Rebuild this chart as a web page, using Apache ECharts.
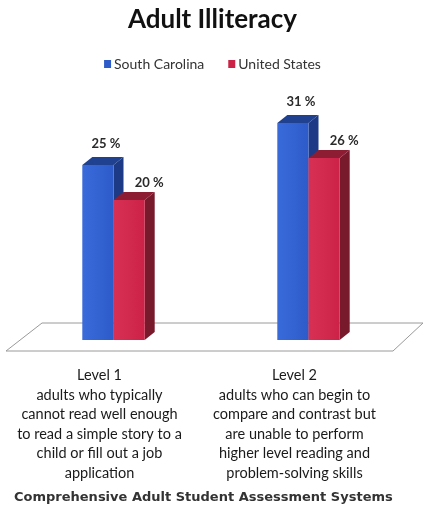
<!DOCTYPE html>
<html>
<head>
<meta charset="utf-8">
<script src="https://cdn.jsdelivr.net/npm/echarts@6/dist/echarts.min.js"></script>
<style>
  html, body { margin: 0; padding: 0; background: #fff; }
  #chart { width: 425px; height: 512px; }
</style>
</head>
<body>
<div id="chart"></div>
<script>
// Adult illiteracy levels, South Carolina vs. United States (percent of adults)
const categories = [
  'Level 1\nadults who typically\ncannot read well enough\nto read a simple story to a\nchild or fill out a job\napplication',
  'Level 2\nadults who can begin to\ncompare and contrast but\nare unable to perform\nhigher level reading and\nproblem-solving skills'
];
const southCarolina = [25, 31];
const unitedStates = [20, 26];
const seriesNames = ['South Carolina', 'United States'];

// Face colours for the pseudo-3D columns: front, top, side
const palettes = [
  { front: '#2d5bc9', frontLight: '#3a6bdb', top: '#20418f', side: '#1c3a86' },
  { front: '#cc2247', frontLight: '#d83055', top: '#8c1d33', side: '#781a2c' }
];

const DEPTH_X = 10, DEPTH_Y = 8, CLUSTER_SHIFT = 14;

function columnRenderer(seriesIdx) {
  const pal = palettes[seriesIdx];
  return function (params, api) {
    const idx = api.value(0);
    const v = api.value(1);
    const base = api.coord([idx, 0]);
    const topPt = api.coord([idx, v]);
    const band = api.size([1, 0])[0];
    const barW = band * 0.16;
    const c = base[0] + CLUSTER_SHIFT;
    const x0 = seriesIdx === 0 ? c - barW : c;
    const x1 = x0 + barW;
    const yb = base[1];
    const yt = topPt[1];
    const labelDx = seriesIdx === 0 ? 8 : 20;
    const labelDy = seriesIdx === 0 ? 21 : 17;
    return {
      type: 'group',
      children: [
        {
          type: 'polygon',
          shape: { points: [[x1, yt], [x1 + DEPTH_X, yt - DEPTH_Y], [x1 + DEPTH_X, yb - DEPTH_Y], [x1, yb]] },
          style: { fill: pal.side }
        },
        {
          type: 'polygon',
          shape: { points: [[x0, yt], [x1, yt], [x1 + DEPTH_X, yt - DEPTH_Y], [x0 + DEPTH_X, yt - DEPTH_Y]] },
          style: { fill: pal.top }
        },
        {
          type: 'rect',
          shape: { x: x0, y: yt, width: barW, height: yb - yt },
          style: {
            fill: new echarts.graphic.LinearGradient(0, 0, 1, 0, [
              { offset: 0, color: pal.frontLight },
              { offset: 1, color: pal.front }
            ])
          }
        },
        {
          type: 'text',
          style: {
            text: v + ' %',
            x: (x0 + x1) / 2 + labelDx,
            y: yt - labelDy,
            align: 'center',
            verticalAlign: 'middle',
            font: 'bold 13px Lato',
            fill: '#2a2a2a'
          }
        }
      ]
    };
  };
}

const chart = echarts.init(document.getElementById('chart'), null, { renderer: 'canvas' });

chart.setOption({
  animation: false,
  backgroundColor: '#ffffff',
  title: {
    text: 'Adult Illiteracy',
    left: 'center',
    top: 2,
    textStyle: { fontFamily: 'Lato', fontWeight: 'bold', fontSize: 26, color: '#111' }
  },
  legend: {
    top: 52,
    left: 'center',
    icon: 'rect',
    itemWidth: 7,
    itemHeight: 8,
    itemGap: 24,
    textStyle: { fontFamily: 'Lato', fontSize: 14, color: '#333', padding: [0, 0, 0, -2] },
    data: seriesNames
  },
  grid: { left: 2, right: 33, top: 60, bottom: 172 },
  xAxis: {
    type: 'category',
    data: categories,
    axisLine: { show: false },
    axisTick: { show: false },
    axisLabel: {
      interval: 0,
      margin: 26,
      fontFamily: 'Lato',
      fontSize: 14.5,
      lineHeight: 19.5,
      color: '#1a1a1a',
      align: 'center'
    }
  },
  yAxis: {
    type: 'value',
    min: 0,
    max: 40,
    show: false,
    splitLine: { show: false }
  },
  graphic: [
    {
      type: 'polygon',
      z: 0,
      shape: { points: [[42, 323], [423, 323], [393, 351], [6, 351]] },
      style: { fill: '#ffffff', stroke: '#9a9a9a', lineWidth: 1 }
    },
    {
      type: 'text',
      left: 14,
      top: 491,
      style: {
        text: 'Comprehensive Adult Student Assessment Systems',
        font: 'bold 13px "DejaVu Sans"',
        fill: '#333'
      }
    }
  ],
  series: [
    {
      name: seriesNames[0],
      type: 'custom',
      itemStyle: { color: palettes[0].front },
      renderItem: columnRenderer(0),
      encode: { x: 0, y: 1 },
      data: southCarolina.map((v, i) => [i, v]),
      z: 3
    },
    {
      name: seriesNames[1],
      type: 'custom',
      itemStyle: { color: palettes[1].front },
      renderItem: columnRenderer(1),
      encode: { x: 0, y: 1 },
      data: unitedStates.map((v, i) => [i, v]),
      z: 4
    }
  ]
});
</script>
</body>
</html>
